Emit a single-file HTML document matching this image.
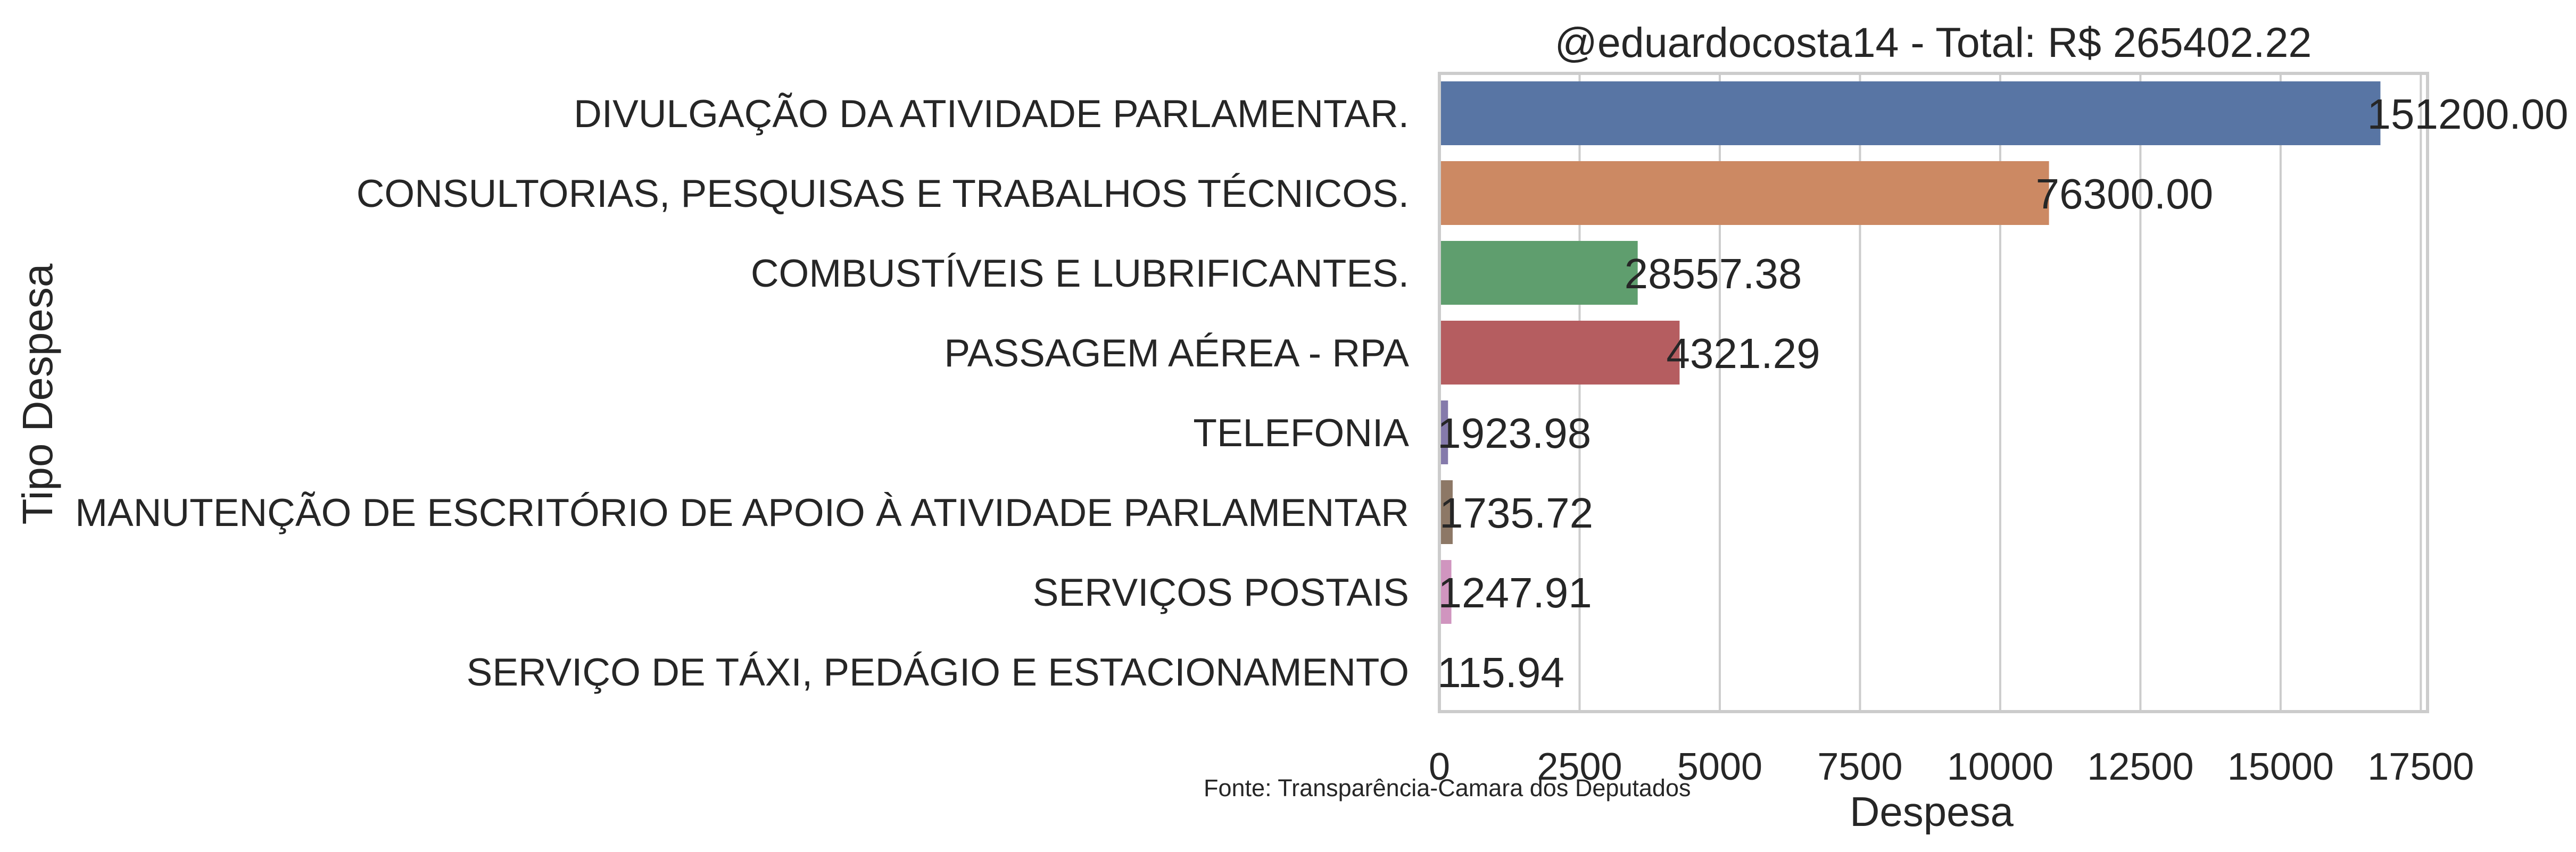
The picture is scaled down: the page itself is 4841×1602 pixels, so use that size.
<!DOCTYPE html>
<html><head><meta charset="utf-8"><style>
html,body{margin:0;padding:0;background:#fff;}
svg{display:block;font-family:"Liberation Sans",Arial,sans-serif;}
</style></head><body>
<svg id="chart" width="4841" height="1602" viewBox="0 0 4841 1602" xmlns="http://www.w3.org/2000/svg">
<rect x="0" y="0" width="4841" height="1602" fill="#fff"/>
<g id="grid"></g>
<g id="bars"></g>
<g id="spines"></g>
<g id="ylabels"></g>
<g id="xlabels"></g>
<g id="vlabels"></g>
<text x="3633" y="107" font-size="79" fill="#262626" text-anchor="middle">@eduardocosta14 - Total: R$ 265402.22</text>
<text x="3630" y="1553" font-size="78" fill="#262626" text-anchor="middle">Despesa</text>
<text x="0" y="0" font-size="80" fill="#262626" text-anchor="middle" transform="translate(98,741) rotate(-90)">Tipo Despesa</text>
<text x="2262" y="1497" font-size="45" fill="#262626">Fonte: Transparência-Camara dos Deputados</text>
</svg>
<script>
const categories = ["DIVULGAÇÃO DA ATIVIDADE PARLAMENTAR.","CONSULTORIAS, PESQUISAS E TRABALHOS TÉCNICOS.","COMBUSTÍVEIS E LUBRIFICANTES.","PASSAGEM AÉREA - RPA","TELEFONIA","MANUTENÇÃO DE ESCRITÓRIO DE APOIO À ATIVIDADE PARLAMENTAR","SERVIÇOS POSTAIS","SERVIÇO DE TÁXI, PEDÁGIO E ESTACIONAMENTO"];
const barValues = [16780, 10870, 3536, 4283, 154, 237, 214, 15];
const printedValues = ["151200.00","76300.00","28557.38","4321.29","1923.98","1735.72","1247.91","115.94"];
const xTicks = [0, 2500, 5000, 7500, 10000, 12500, 15000, 17500];
const barColors = ["#5875a4","#cc8963","#5f9e6e","#b55d60","#857aab","#8d7866","#d095bf","#8c8c8c"];

const NS = "http://www.w3.org/2000/svg";
const L = 2705, R = 4562, T = 138, B = 1338;
const xMax = 17620;
const x = v => L + v / xMax * (R - L);
const band = (B - T) / categories.length;
const y = i => T + band * i;
function mk(tag, attrs, parent, txt){
  const e = document.createElementNS(NS, tag);
  for (const k in attrs) e.setAttribute(k, attrs[k]);
  if (txt !== undefined) e.textContent = txt;
  parent.appendChild(e); return e;
}
const grid = document.getElementById('grid');
const xl = document.getElementById('xlabels');
xTicks.forEach(t => {
  const g = mk('line', {x1:x(t), x2:x(t), y1:T, y2:B, stroke:'#cccccc', 'stroke-width':4}, grid);
  
  
  const tl = mk('text', {x:x(t), y:1466, 'font-size':72, fill:'#262626', 'text-anchor':'middle'}, xl, String(t));
  
  
});
const bars = document.getElementById('bars');
const yl = document.getElementById('ylabels');
const vl = document.getElementById('vlabels');
categories.forEach((c, i) => {
  const cy = y(i) + band / 2;
  const b = mk('rect', {x:x(0), y:cy - band * 0.4, width:Math.max(0, x(barValues[i]) - x(0)), height:band * 0.8, fill:barColors[i]}, bars);
  
  
  const t = mk('text', {x:2648, y:cy + 26, 'font-size':73, fill:'#262626', 'text-anchor':'end'}, yl, c);
  
  
  const v = mk('text', {x:x(Math.max(barValues[i], 200)) - 25, y:cy + 29, 'font-size':80, fill:'#262626'}, vl, printedValues[i]);
  
  
});
const sp = document.getElementById('spines');
const s = mk('rect', {x:L, y:T, width:R - L, height:B - T, fill:'none', stroke:'#cccccc', 'stroke-width':6}, sp);


</script>
</body></html>
